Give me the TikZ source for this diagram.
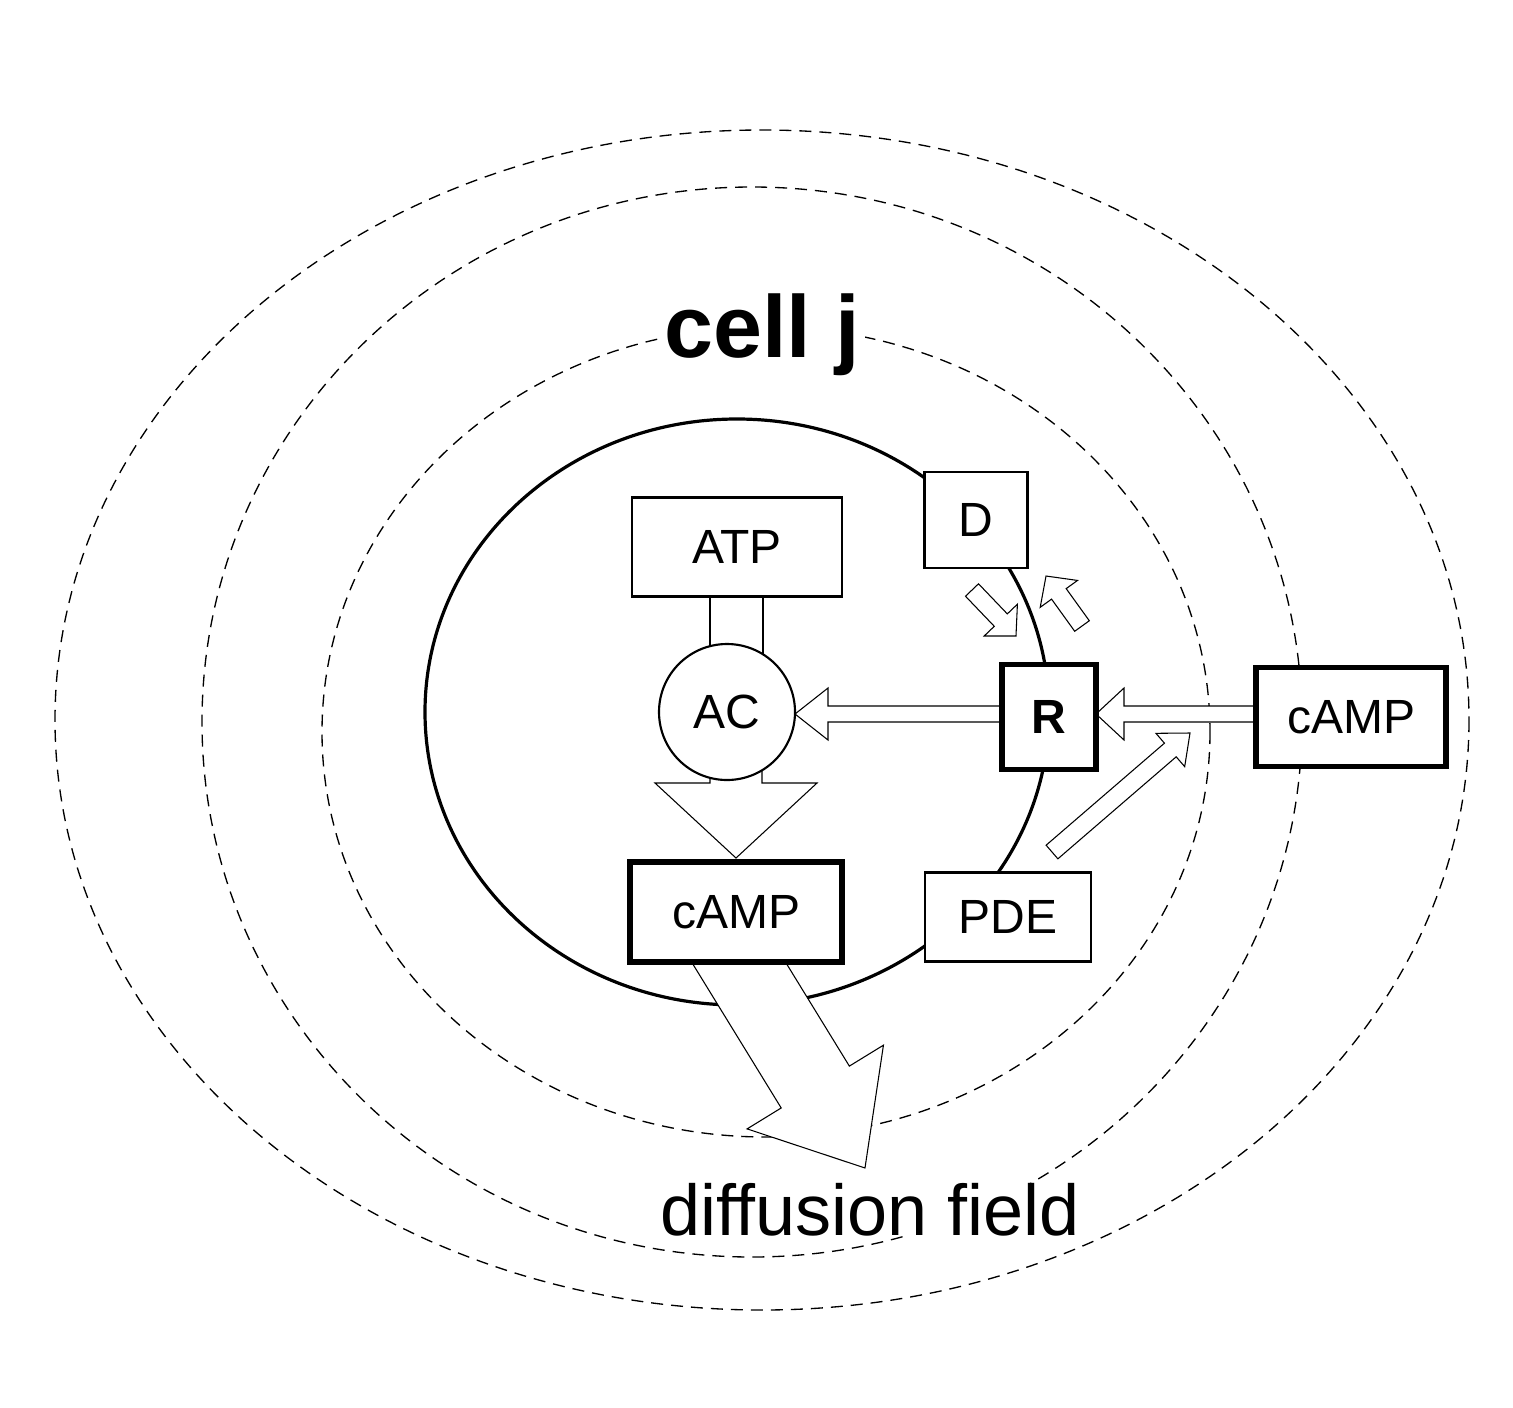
\documentclass[tikz,border=0pt]{standalone}
\usepackage{fontspec}
\setmainfont{Liberation Sans}
\newcommand\harrow[7]{%
  \pgfmathsetmacro\hang{atan2(-(#4-#2),#3-#1)}%
  \pgfmathsetmacro\hlen{veclen(#3-#1,#4-#2)}%
  \begin{scope}[shift={(#1,#2)},rotate=\hang]
    \draw[fill=white,line width=0.8pt] (0,-#5)--(\hlen-#7,-#5)--(\hlen-#7,-#6)--(\hlen,0)--(\hlen-#7,#6)--(\hlen-#7,#5)--(0,#5)--cycle;
  \end{scope}}
\begin{document}
\begin{tikzpicture}[x=0.75pt,y=-0.75pt,
  box/.style={draw,fill=white,line width=1.6pt,minimum width=#1*0.75pt,font=\fontsize{36}{40}\selectfont,inner sep=0pt},
  tbox/.style={box=#1,line width=4pt}]
\useasboundingbox[fill=white] (0,0) rectangle (1513,1407);
\tikzset{dsh/.style={line width=1pt,dash pattern=on 9pt off 6pt}}
\draw[dsh] (762,720) ellipse [x radius=707,y radius=590];
\draw[dsh] (752,722) ellipse [x radius=550,y radius=535];
\draw[dsh] (766,732) ellipse [x radius=444,y radius=405];
\draw[line width=2.4pt] (737,712) ellipse [x radius=312,y radius=293];
\draw[line width=1pt] (710,597)--(710,670) (763,597)--(763,670);
\harrow{736}{740}{736}{858}{26}{81}{75}
\harrow{725}{940}{865}{1168}{40}{80}{95}
\harrow{1002}{714}{795}{714}{8}{26}{33}
\harrow{1256}{714}{1096}{714}{8}{26}{28}
\harrow{1052}{852}{1190}{733}{9}{22}{26}
\harrow{972}{590}{1016}{636}{9}{23}{22}
\harrow{1082}{626}{1046}{576}{9}{23}{22}
\node[box=210,minimum height=99*0.75pt] (atp) at (737,547) {ATP};
\node[draw,fill=white,circle,line width=1.6pt,minimum size=136*0.75pt,inner sep=0pt,font=\fontsize{36}{40}\selectfont] (ac) at (727,712) {AC};
\node[tbox=212,minimum height=100*0.75pt] (camp) at (736,912) {cAMP};
\node[box=103,minimum height=96*0.75pt] (d) at (976,520) {D};
\node[tbox=94,minimum height=105*0.75pt,font=\fontsize{36}{40}\selectfont\bfseries] (r) at (1049,717) {R};
\node[box=166,minimum height=89*0.75pt] (pde) at (1008,917) {PDE};
\node[tbox=190,minimum height=99*0.75pt] (campo) at (1351,717) {cAMP};
\node[fill=white,inner xsep=4pt,inner ysep=0pt,font=\fontsize{66}{70}\selectfont\bfseries] (cell) at (762,335) {cell j};
\node[fill=white,inner xsep=6pt,inner ysep=0pt,font=\fontsize{54}{60}\selectfont] (diff) at (870,1210) {diffusion field};
\end{tikzpicture}
\end{document}
